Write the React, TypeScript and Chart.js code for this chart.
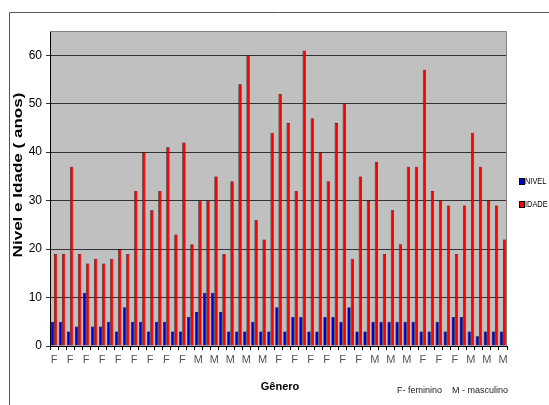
import React, { useEffect, useRef } from "react";
import { Chart, registerables } from "chart.js";

Chart.register(...registerables);

const genders = [
  "F", "F", "F", "F", "F", "F", "F", "F", "F", "F",
  "F", "F", "F", "F", "F", "F", "F", "M", "M", "M",
  "M", "M", "M", "M", "M", "M", "M", "F", "F", "F",
  "F", "F", "F", "F", "F", "F", "F", "F", "F", "M",
  "M", "M", "M", "M", "M", "F", "F", "F", "F", "F",
  "F", "M", "M", "M", "M", "M", "M",
];

const nivel = [
  5, 5, 3, 4, 11, 4, 4, 5, 3, 8,
  5, 5, 3, 5, 5, 3, 3, 6, 7, 11,
  11, 7, 3, 3, 3, 5, 3, 3, 8, 3,
  6, 6, 3, 3, 6, 6, 5, 8, 3, 3,
  5, 5, 5, 5, 5, 5, 3, 3, 5, 3,
  6, 6, 3, 2, 3, 3, 3,
];

const idade = [
  19, 19, 37, 19, 17, 18, 17, 18, 20, 19,
  32, 40, 28, 32, 41, 23, 42, 21, 30, 30,
  35, 19, 34, 54, 60, 26, 22, 44, 52, 46,
  32, 61, 47, 40, 34, 46, 50, 18, 35, 30,
  38, 19, 28, 21, 37, 37, 57, 32, 30, 29,
  19, 29, 44, 37, 30, 29, 22,
];

const seriesNames = ["NIVEL", "IDADE"];
const seriesColors = ["#0000CC", "#FF0000"];
const yTicks = [0, 10, 20, 30, 40, 50, 60];
const yTitle = "Nivel e Idade ( anos)";
const xTitle = "Gênero";
const footnote = "F- feminino    M - masculino";

const FONT = "'Liberation Sans', Arial, sans-serif";

const decorPlugin = {
  id: "decor",
  beforeDraw(chart: any) {
    const { ctx, chartArea } = chart;
    ctx.save();
    ctx.fillStyle = "#ffffff";
    ctx.fillRect(0, 0, chart.width, chart.height);
    ctx.strokeStyle = "#555555";
    ctx.lineWidth = 1;
    ctx.beginPath();
    ctx.moveTo(9.5, chart.height);
    ctx.lineTo(9.5, 12.5);
    ctx.lineTo(chart.width, 12.5);
    ctx.stroke();
    ctx.fillStyle = "#C0C0C0";
    ctx.fillRect(chartArea.left, chartArea.top, chartArea.right - chartArea.left, chartArea.bottom - chartArea.top);
    ctx.restore();
  },
  afterDraw(chart: any) {
    const { ctx, chartArea } = chart;
    ctx.save();
    ctx.strokeStyle = "#808080";
    ctx.lineWidth = 1;
    ctx.beginPath();
    ctx.moveTo(chartArea.left, chartArea.top + 0.5);
    ctx.lineTo(chartArea.right - 0.5, chartArea.top + 0.5);
    ctx.lineTo(chartArea.right - 0.5, chartArea.bottom);
    ctx.stroke();

    // y title (stretched along its length like the original)
    ctx.fillStyle = "#000";
    ctx.font = `bold 12px ${FONT}`;
    ctx.textAlign = "center";
    ctx.textBaseline = "middle";
    ctx.save();
    ctx.translate(19, 175);
    ctx.rotate(-Math.PI / 2);
    ctx.scale(1.42, 1);
    ctx.fillText(yTitle, 0, 0);
    ctx.restore();

    // x title
    ctx.font = `bold 11px ${FONT}`;
    ctx.fillText(xTitle, 280, 387);

    // footnote
    ctx.font = `9px ${FONT}`;
    ctx.textAlign = "left";
    ctx.fillStyle = "#222";
    ctx.fillText(footnote, 397, 391);

    // legend
    const ds = chart.data.datasets;
    ds.forEach((d: any, i: number) => {
      const y = 181 + i * 23;
      ctx.fillStyle = d.backgroundColor;
      ctx.fillRect(519, y - 3, 5, 6);
      ctx.strokeStyle = "#000";
      ctx.strokeRect(519.5, y - 2.5, 5, 6);
      ctx.fillStyle = "#000";
      ctx.font = `9px ${FONT}`;
      ctx.textAlign = "left";
      ctx.save();
      ctx.translate(525, y + 0.5);
      ctx.scale(0.82, 1);
      ctx.fillText(d.label, 0, 0);
      ctx.restore();
    });
    ctx.restore();
  },
};

export default function App() {
  const ref = useRef<HTMLCanvasElement>(null);
  useEffect(() => {
    document.body.style.margin = "0";
    document.body.style.overflow = "hidden";
    const chart = new Chart(ref.current!, {
      type: "bar",
      data: {
        labels: genders,
        datasets: [
          {
            label: seriesNames[0],
            data: nivel,
            backgroundColor: seriesColors[0],
            borderColor: "#000000",
            borderWidth: 0.6,
            borderSkipped: "start",
          },
          {
            label: seriesNames[1],
            data: idade,
            backgroundColor: seriesColors[1],
            borderColor: "#000000",
            borderWidth: 0.6,
            borderSkipped: "start",
          },
        ],
      },
      options: {
        animation: false,
        responsive: false,
        devicePixelRatio: 1,
        layout: { padding: { left: 0, right: 42, top: 31, bottom: 0 } },
        datasets: { bar: { barPercentage: 1, categoryPercentage: 0.82 } },
        plugins: { legend: { display: false }, tooltip: { enabled: false } },
        scales: {
          x: {
            offset: true,
            grid: {
              display: true,
              drawOnChartArea: false,
              drawTicks: true,
              tickLength: 4,
              offset: true,
              color: "#000",
            },
            border: { display: true, color: "#000" },
            ticks: {
              autoSkip: false,
              maxRotation: 0,
              minRotation: 0,
              padding: 3,
              color: "#555",
              font: { family: FONT, size: 11 },
              callback: (_v: any, i: number) => (i % 2 === 0 ? genders[i] : ""),
            },
            afterFit: (s: any) => {
              s.height = 59;
            },
          },
          y: {
            min: 0,
            max: 65,
            afterBuildTicks: (s: any) => {
              s.ticks = yTicks.map((v) => ({ value: v }));
            },
            grid: { color: "#333", tickLength: 4, lineWidth: 1 },
            border: { display: true, color: "#000" },
            ticks: {
              padding: 4,
              color: "#000",
              font: { family: FONT, size: 12 },
            },
            afterFit: (s: any) => {
              s.width = 50;
            },
          },
        },
      },
      plugins: [decorPlugin],
    });
    return () => chart.destroy();
  }, []);
  return <canvas ref={ref} width={549} height={405} style={{ display: "block" }} />;
}
